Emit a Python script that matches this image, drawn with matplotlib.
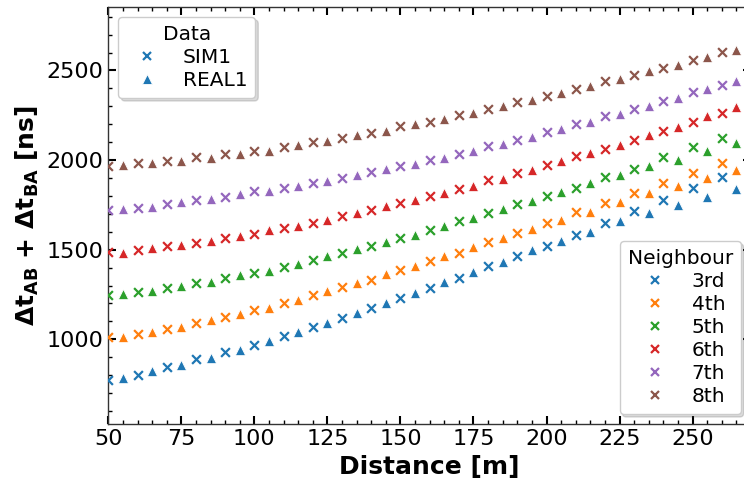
import matplotlib
matplotlib.use("Agg")
import matplotlib.pyplot as plt
from matplotlib.lines import Line2D
from matplotlib.ticker import MultipleLocator

# Distances [m]: simulation every 10 m from 50, measurements offset by 5 m
sim_dist = [50, 60, 70, 80, 90, 100, 110, 120, 130, 140, 150,
            160, 170, 180, 190, 200, 210, 220, 230, 240, 250, 260]
real_dist = [55, 65, 75, 85, 95, 105, 115, 125, 135, 145, 155,
             165, 175, 185, 195, 205, 215, 225, 235, 245, 255, 265]

neighbours = ["3rd", "4th", "5th", "6th", "7th", "8th"]

# Round-trip sums dt_AB + dt_BA [ns], simulation
sim_3rd = [771, 803, 846, 888, 929, 968, 1017, 1069, 1119, 1175, 1233,
           1286, 1344, 1409, 1465, 1520, 1584, 1651, 1716, 1779, 1844, 1905]
sim_4th = [1013, 1032, 1057, 1091, 1124, 1162, 1205, 1249, 1292, 1333, 1385,
           1436, 1484, 1543, 1593, 1649, 1708, 1762, 1816, 1872, 1930, 1985]
sim_5th = [1245, 1264, 1288, 1314, 1344, 1370, 1403, 1445, 1484, 1520, 1565,
           1608, 1658, 1704, 1753, 1798, 1846, 1905, 1952, 2017, 2072, 2123]
sim_6th = [1487, 1500, 1520, 1539, 1565, 1589, 1621, 1651, 1686, 1723, 1760,
           1800, 1840, 1887, 1930, 1974, 2022, 2064, 2114, 2160, 2212, 2264]
sim_7th = [1719, 1734, 1757, 1775, 1794, 1825, 1844, 1872, 1900, 1935, 1965,
           2000, 2036, 2078, 2114, 2156, 2199, 2245, 2287, 2327, 2379, 2420]
sim_8th = [1966, 1982, 1993, 2015, 2033, 2050, 2072, 2099, 2123, 2151, 2188,
           2215, 2249, 2287, 2323, 2355, 2394, 2439, 2472, 2513, 2560, 2603]

# Round-trip sums dt_AB + dt_BA [ns], measurement
real_3rd = [784, 822, 855, 898, 943, 992, 1039, 1091, 1147, 1205, 1260,
            1320, 1375, 1431, 1496, 1548, 1600, 1660, 1707, 1751, 1794, 1837]
real_4th = [1013, 1041, 1069, 1106, 1143, 1177, 1221, 1268, 1314, 1363, 1411,
            1463, 1515, 1565, 1617, 1668, 1712, 1764, 1816, 1857, 1900, 1943]
real_5th = [1251, 1269, 1299, 1320, 1357, 1381, 1422, 1463, 1502, 1543, 1584,
            1630, 1677, 1725, 1771, 1822, 1870, 1915, 1967, 2002, 2049, 2095]
real_6th = [1483, 1509, 1528, 1548, 1578, 1608, 1634, 1668, 1707, 1743, 1779,
            1818, 1855, 1896, 1946, 1993, 2040, 2082, 2138, 2184, 2244, 2296]
real_7th = [1725, 1740, 1764, 1785, 1809, 1827, 1855, 1885, 1916, 1950, 1980,
            2013, 2050, 2091, 2128, 2171, 2212, 2259, 2301, 2346, 2394, 2439]
real_8th = [1974, 1985, 1997, 2013, 2036, 2052, 2086, 2104, 2138, 2162, 2199,
            2231, 2262, 2300, 2337, 2374, 2415, 2450, 2495, 2532, 2575, 2616]

sim_series = [sim_3rd, sim_4th, sim_5th, sim_6th, sim_7th, sim_8th]
real_series = [real_3rd, real_4th, real_5th, real_6th, real_7th, real_8th]
colors = ["#1f77b4", "#ff7f0e", "#2ca02c", "#d62728", "#9467bd", "#8c564b"]

fig = plt.figure(figsize=(7.44, 4.84), dpi=100)
ax = fig.add_axes([108.3 / 744, (484 - 424.3) / 484,
                   (751 - 108.3) / 744, (424.3 - 7) / 484])

for sim, real, c in zip(sim_series, real_series, colors):
    ax.scatter(sim_dist, sim, marker="x", s=40, color=c, linewidths=1.6, zorder=3)
    ax.scatter(real_dist, real, marker="^", s=55, color=c,
               edgecolors="white", linewidths=0.6, zorder=3)

ax.set_xlim(50, 270)
ax.set_ylim(526, 2854)
ax.xaxis.set_major_locator(MultipleLocator(25))
ax.xaxis.set_minor_locator(MultipleLocator(5))
ax.yaxis.set_major_locator(MultipleLocator(500))
ax.yaxis.set_minor_locator(MultipleLocator(100))

ax.tick_params(which="both", direction="in", top=True, right=True,
               labelsize=16, colors="black")
ax.tick_params(which="major", length=6, width=1.5)
ax.tick_params(which="minor", length=3, width=1)
for sp in ax.spines.values():
    sp.set_color("0.2")
    sp.set_linewidth(1.0)

ax.set_xlabel("Distance [m]", fontsize=18, fontweight="bold")
ax.set_ylabel(r"$\mathbf{\Delta t_{AB}}$ + $\mathbf{\Delta t_{BA}}$ [ns]",
              fontsize=18, fontweight="bold")

legend_kw = dict(fontsize=14.5, title_fontsize=14.5, labelspacing=0.2,
                 framealpha=1, edgecolor="0.8",
                 shadow={"alpha": 0.2, "ox": 2, "oy": -2})

data_handles = [
    Line2D([], [], linestyle="none", marker="x", color=colors[0],
           markersize=6.3, markeredgewidth=1.6),
    Line2D([], [], linestyle="none", marker="^", color=colors[0],
           markeredgecolor="white", markeredgewidth=0.6, markersize=7.5),
]
leg1 = ax.legend(data_handles, ["SIM1", "REAL1"], title="Data",
                 loc="upper left", **legend_kw)
ax.add_artist(leg1)

nb_handles = [Line2D([], [], linestyle="none", marker="x", color=c,
                     markersize=6.3, markeredgewidth=1.6) for c in colors]
ax.legend(nb_handles, neighbours, title="Neighbour", loc="lower right",
          **legend_kw)

fig.savefig("out.png", dpi=100)
